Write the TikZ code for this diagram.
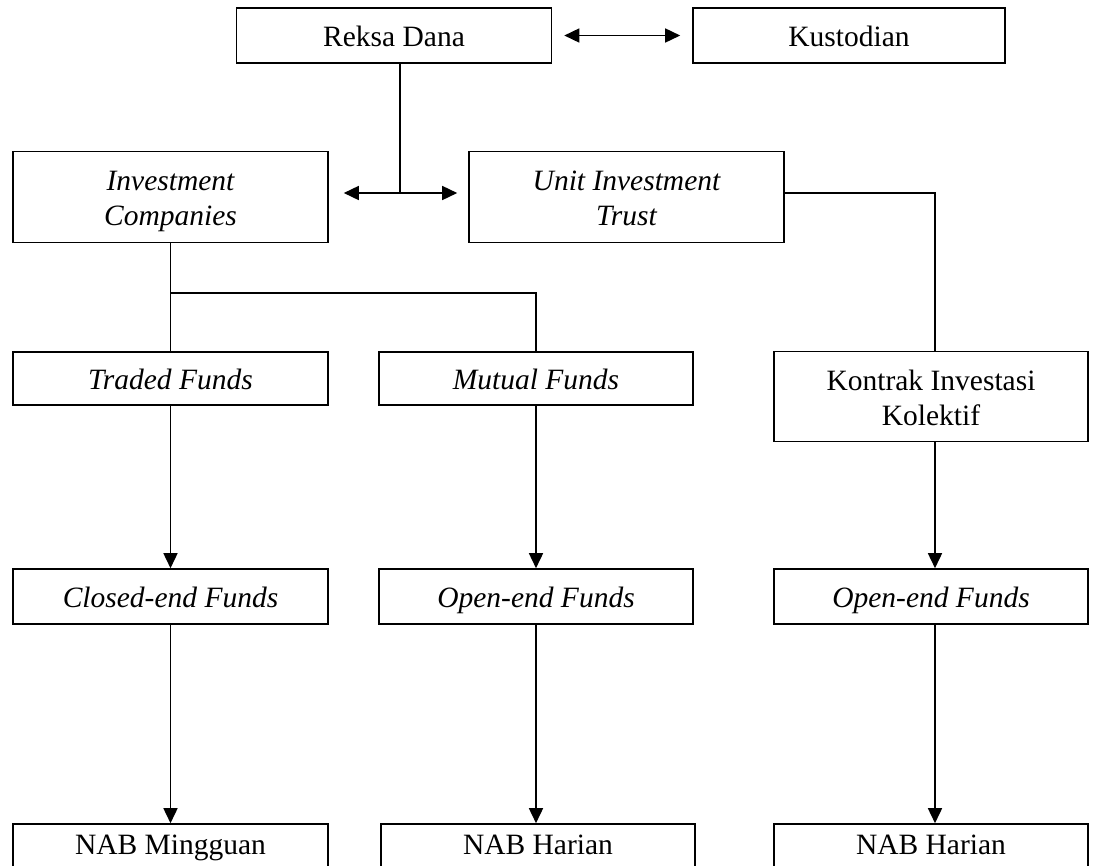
\documentclass[tikz,border=0pt]{standalone}
\usepackage{fontspec}
\setmainfont{Liberation Serif}
\usetikzlibrary{arrows.meta}
\newcommand\lnstrut{\rule[-6pt]{0pt}{34pt}}
\newcommand\lowstrut{\rule[-12pt]{0pt}{12pt}}
\begin{document}
\begin{tikzpicture}[x=1pt,y=-1pt,
  box/.style={draw, line width=1.6pt, inner sep=0pt, align=center,
    font=\fontsize{29.5}{35}\selectfont},
  itbox/.style={box, font=\fontsize{29.5}{35}\selectfont\itshape},
  conn/.style={line width=1.6pt},
  arr/.style={conn, -{Triangle[length=15pt,width=14pt]}},
  dbl/.style={conn, {Triangle[length=15pt,width=14pt]}-{Triangle[length=15pt,width=14pt]}}]
\useasboundingbox (0,0) rectangle (1095,865);
\clip (0,0) rectangle (1095,865);
% top row
\node[box, minimum width=315pt, minimum height=55pt] (rd) at (394,35.5) {\lnstrut Reksa Dana};
\node[box, minimum width=312pt, minimum height=55pt] (ku) at (849,35.5) {\lnstrut Kustodian};
% second row
\node[itbox, minimum width=315pt, minimum height=91pt] (ic) at (170.5,197) {\lnstrut Investment\\\lnstrut Companies};
\node[itbox, minimum width=315pt, minimum height=91pt] (uit) at (626.5,197) {\lnstrut Unit Investment\\\lnstrut Trust};
% third row
\node[itbox, minimum width=315pt, minimum height=53pt] (tf) at (170.5,378.5) {\lnstrut Traded Funds};
\node[itbox, minimum width=314pt, minimum height=53pt] (mf) at (536,378.5) {\lnstrut Mutual Funds};
\node[box, minimum width=314pt, minimum height=90pt] (kik) at (931,396.5) {\lnstrut Kontrak Investasi\\\lnstrut Kolektif};
% fourth row
\node[itbox, minimum width=315pt, minimum height=55pt] (ce) at (170.5,596.5) {\lnstrut Closed-end Funds};
\node[itbox, minimum width=314pt, minimum height=55pt] (oe1) at (536,596.5) {\lnstrut Open-end Funds};
\node[itbox, minimum width=314pt, minimum height=55pt] (oe2) at (931,596.5) {\lnstrut Open-end Funds};
% bottom row (cut off by the lower edge, as in the reference)
\node[box, minimum width=315pt, minimum height=53pt] (nab1) at (170.5,850.5) {\lowstrut NAB Mingguan};
\node[box, minimum width=314pt, minimum height=53pt] (nab2) at (538,850.5) {\lowstrut NAB Harian};
\node[box, minimum width=314pt, minimum height=53pt] (nab3) at (931,850.5) {\lowstrut NAB Harian};
% junction coordinates
\coordinate (j1) at (400,193);
\coordinate (j2) at (170.5,293);
\coordinate (k) at (935,193);
% connectors
\draw[dbl, shorten <=12pt, shorten >=12pt] (rd.east) -- (ku.west);
\draw[conn] (rd.south -| j1) -- (j1);
\draw[dbl, shorten <=15pt, shorten >=11pt] (ic.east |- j1) -- (uit.west |- j1);
\draw[conn] (ic.south) -- (tf.north);
\draw[conn] (j2) -| (mf.north);
\draw[conn] (uit.east |- k) -- (k) -- (k |- kik.north);
\draw[arr] (tf.south) -- (ce.north);
\draw[arr] (mf.south) -- (oe1.north);
\draw[arr] (kik.south -| k) -- (oe2.north -| k);
\draw[arr] (ce.south) -- (nab1.north);
\draw[arr] (oe1.south) -- (oe1.south |- nab2.north);
\draw[arr] (oe2.south -| k) -- (nab3.north -| k);
\end{tikzpicture}
\end{document}
